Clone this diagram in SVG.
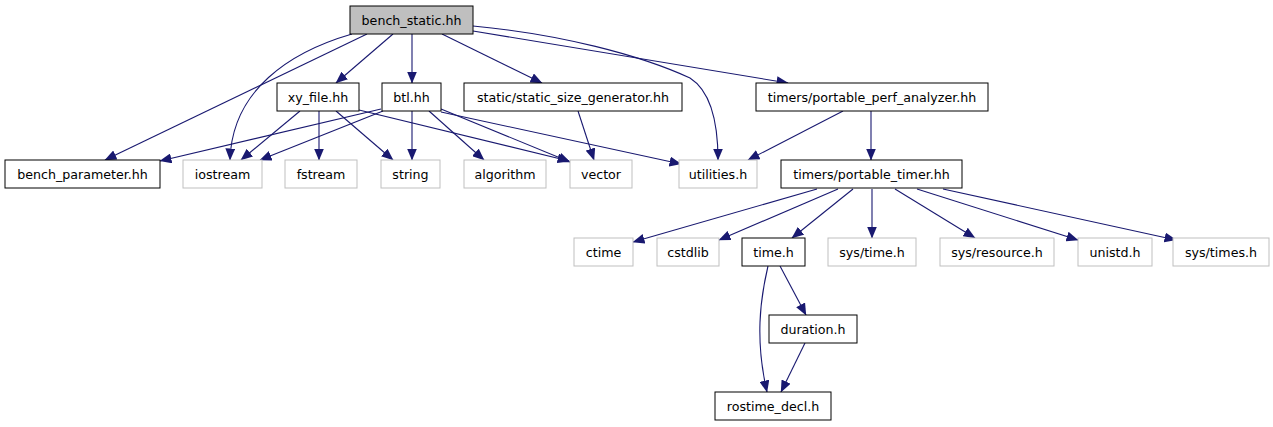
<svg xmlns="http://www.w3.org/2000/svg" width="1273" height="427" viewBox="0 0 1273 427">
<style>
.n rect{fill:#fff;stroke:#000;stroke-width:1}
.g rect{fill:#fff;stroke:#bfbfbf;stroke-width:1}
.r rect{fill:#bfbfbf;stroke:#000;stroke-width:1}
text{font-family:"DejaVu Sans",sans-serif;font-size:12.65px;fill:#000;text-anchor:middle}
#edges path{fill:none;stroke:#191970;stroke-width:1.1;marker-end:url(#ah)}
</style>
<defs>
<marker id="ah" markerUnits="userSpaceOnUse" markerWidth="12" markerHeight="10" viewBox="0 0 12 10" refX="11.5" refY="5" orient="auto">
<path d="M0,0 L12,5 L0,10 z" fill="#191970"/>
</marker>
</defs>
<rect width="1273" height="427" fill="#fff"/>
<g id="edges">
<path d="M367,34 L105,160"/>
<path d="M352,34 C290,52 232,90 230,160"/>
<path d="M393,34 L336,83"/>
<path d="M412,34 L412,83"/>
<path d="M442,34 L542,83"/>
<path d="M473,26 C560,34 640,55 690,78 C712,92 718,125 718,160"/>
<path d="M473,31 L788,83"/>
<path d="M300,111 L241,160"/>
<path d="M319,111 L319,160"/>
<path d="M336,111 L393,160"/>
<path d="M359,110 L569,161"/>
<path d="M381,109 L160,161"/>
<path d="M383,111 L260,160"/>
<path d="M412,111 L412,160"/>
<path d="M429,111 L484,160"/>
<path d="M441,109 L570,162"/>
<path d="M441,112 L681,164"/>
<path d="M578,111 L594,160"/>
<path d="M843,111 L748,160"/>
<path d="M871,111 L871,160"/>
<path d="M817,189 L633,242"/>
<path d="M838,189 L719,240"/>
<path d="M853,189 L792,238"/>
<path d="M872,189 L872,238"/>
<path d="M895,189 L975,238"/>
<path d="M917,189 L1078,240"/>
<path d="M943,189 L1176,240"/>
<path d="M768,266 C760,300 755,340 767,392"/>
<path d="M780,266 L806,315"/>
<path d="M805,343 L781,392"/>
</g>
<g id="bench_static" class="r"><rect x="350" y="6" width="123" height="28"/><text x="411.5" y="24.5">bench_static.hh</text></g>
<g id="xy_file" class="n"><rect x="277" y="83" width="82" height="28"/><text x="318" y="101.5">xy_file.hh</text></g>
<g id="btl" class="n"><rect x="382" y="83" width="59" height="28"/><text x="411.5" y="101.5">btl.hh</text></g>
<g id="static_size_generator" class="n"><rect x="464" y="83" width="218" height="28"/><text x="573" y="101.5">static/static_size_generator.hh</text></g>
<g id="portable_perf_analyzer" class="n"><rect x="756" y="83" width="232" height="28"/><text x="872" y="101.5">timers/portable_perf_analyzer.hh</text></g>
<g id="bench_parameter" class="n"><rect x="5" y="160" width="155" height="28"/><text x="82.5" y="178.5">bench_parameter.hh</text></g>
<g id="iostream" class="g"><rect x="183" y="160" width="79" height="28"/><text x="222.5" y="178.5">iostream</text></g>
<g id="fstream" class="g"><rect x="285" y="160" width="72" height="28"/><text x="321" y="178.5">fstream</text></g>
<g id="string" class="g"><rect x="381" y="160" width="59" height="28"/><text x="410.5" y="178.5">string</text></g>
<g id="algorithm" class="g"><rect x="464" y="160" width="82" height="28"/><text x="505" y="178.5">algorithm</text></g>
<g id="vector" class="g"><rect x="570" y="160" width="62" height="28"/><text x="601" y="178.5">vector</text></g>
<g id="utilities" class="g"><rect x="679" y="160" width="78" height="28"/><text x="718" y="178.5">utilities.h</text></g>
<g id="portable_timer" class="n"><rect x="781" y="160" width="181" height="28"/><text x="871.5" y="178.5">timers/portable_timer.hh</text></g>
<g id="ctime" class="g"><rect x="574" y="238" width="59" height="28"/><text x="603.5" y="256.5">ctime</text></g>
<g id="cstdlib" class="g"><rect x="657" y="238" width="62" height="28"/><text x="688" y="256.5">cstdlib</text></g>
<g id="time_h" class="n"><rect x="742" y="238" width="63" height="28"/><text x="773.5" y="256.5">time.h</text></g>
<g id="sys_time" class="g"><rect x="828" y="238" width="88" height="28"/><text x="872" y="256.5">sys/time.h</text></g>
<g id="sys_resource" class="g"><rect x="940" y="238" width="114" height="28"/><text x="997" y="256.5">sys/resource.h</text></g>
<g id="unistd" class="g"><rect x="1078" y="238" width="74" height="28"/><text x="1115" y="256.5">unistd.h</text></g>
<g id="sys_times" class="g"><rect x="1173" y="238" width="96" height="28"/><text x="1221" y="256.5">sys/times.h</text></g>
<g id="duration" class="n"><rect x="769" y="315" width="88" height="28"/><text x="813" y="333.5">duration.h</text></g>
<g id="rostime_decl" class="n"><rect x="715" y="392" width="116" height="28"/><text x="773" y="410.5">rostime_decl.h</text></g>
</svg>
